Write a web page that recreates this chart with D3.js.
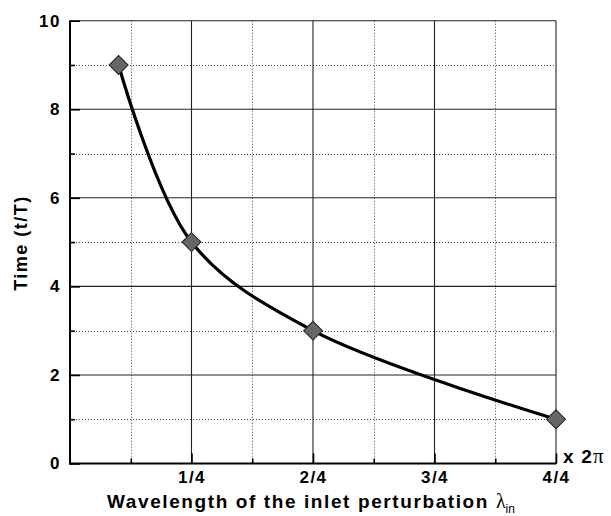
<!DOCTYPE html>
<html>
<head>
<meta charset="utf-8">
<title>Time vs wavelength</title>
<style>
  body { margin: 0; background: #fff; }
  text { font-family: "Liberation Sans", Arial, Helvetica, sans-serif; font-weight: bold; fill: #000; }
</style>
</head>
<body>
<script src="https://cdn.jsdelivr.net/npm/d3@7"></script>
<script>
// data
var wavelength = [0.1, 0.25, 0.5, 1.0];   // x 2pi
var timeT = [9, 5, 3, 1];                  // t/T
var xMajor = [0.25, 0.5, 0.75, 1.0];
var xMajorLabels = ["1/4", "2/4", "3/4", "4/4"];
var xMinor = [0.125, 0.375, 0.625, 0.875];
var yMajor = [0, 2, 4, 6, 8, 10];
var yMinor = [1, 3, 5, 7, 9];

var W = 611, H = 516;
var mL = 70, mR = 556, mT = 20.7, mB = 463.5;

var svg = d3.select("body").append("svg").attr("width", W).attr("height", H);

var x = d3.scaleLinear().domain([0, 1]).range([mL, mR]);
var y = d3.scaleLinear().domain([0, 10]).range([mB, mT]);

// dotted minor grid
var g = svg.append("g");
g.selectAll(".vminor").data(xMinor).enter().append("line")
  .attr("x1", function(d){ return Math.round(x(d)) + 0.5; })
  .attr("x2", function(d){ return Math.round(x(d)) + 0.5; })
  .attr("y1", mT).attr("y2", mB)
  .attr("stroke", "#444").attr("stroke-width", 1).attr("stroke-dasharray", "1,2");
g.selectAll(".hminor").data(yMinor).enter().append("line")
  .attr("y1", function(d){ return Math.round(y(d)) + 0.5; })
  .attr("y2", function(d){ return Math.round(y(d)) + 0.5; })
  .attr("x1", mL).attr("x2", mR)
  .attr("stroke", "#444").attr("stroke-width", 1).attr("stroke-dasharray", "1,2");

// solid major grid (incl. top and right border)
g.selectAll(".vmajor").data(xMajor).enter().append("line")
  .attr("x1", function(d){ return x(d); }).attr("x2", function(d){ return x(d); })
  .attr("y1", mT).attr("y2", mB)
  .attr("stroke", "#222").attr("stroke-width", 1.1);
g.selectAll(".hmajor").data(yMajor.slice(1)).enter().append("line")
  .attr("y1", function(d){ return y(d); }).attr("y2", function(d){ return y(d); })
  .attr("x1", mL).attr("x2", mR)
  .attr("stroke", "#222").attr("stroke-width", 1.1);

// axes with inward ticks
var yAxis = svg.append("g").attr("transform", "translate(" + mL + ",0)")
  .call(d3.axisLeft(y).tickValues(yMajor).tickSize(-10).tickPadding(9).tickFormat(d3.format("d")));
var yAxisMinor = svg.append("g").attr("transform", "translate(" + mL + ",0)")
  .call(d3.axisLeft(y).tickValues(yMinor).tickSize(-5).tickFormat(""));
var xAxis = svg.append("g").attr("transform", "translate(0," + mB + ")")
  .call(d3.axisBottom(x).tickValues(xMajor).tickSize(-10).tickPadding(7)
    .tickFormat(function(d, i){ return xMajorLabels[i]; }));
var xAxisMinor = svg.append("g").attr("transform", "translate(0," + mB + ")")
  .call(d3.axisBottom(x).tickValues(xMinor).tickSize(-5).tickFormat(""));

[yAxis, yAxisMinor, xAxis, xAxisMinor].forEach(function(a){
  a.select(".domain").remove();
  a.selectAll(".tick line").attr("stroke", "#000").attr("stroke-width", 1.6);
  a.selectAll("text").attr("font-size", 17).attr("letter-spacing", 1.5)
    .attr("font-family", "Liberation Sans, Arial, sans-serif").attr("font-weight", "bold").attr("fill", "#000");
});

// thick left and bottom axis lines
svg.append("line").attr("x1", mL).attr("x2", mL).attr("y1", mT - 0.5).attr("y2", mB + 1)
  .attr("stroke", "#000").attr("stroke-width", 2);
svg.append("line").attr("x1", mL - 1).attr("x2", mR + 0.5).attr("y1", mB).attr("y2", mB)
  .attr("stroke", "#000").attr("stroke-width", 2);

// smooth curve through the points
var pts = wavelength.map(function(d, i){ return [d, timeT[i]]; });
var line = d3.line()
  .x(function(d){ return x(d[0]); })
  .y(function(d){ return y(d[1]); })
  .curve(d3.curveCatmullRom.alpha(0.5));
svg.append("path").datum(pts).attr("d", line)
  .attr("fill", "none").attr("stroke", "#000").attr("stroke-width", 3.2);

// diamonds
svg.selectAll(".pt").data(pts).enter().append("path")
  .attr("d", d3.symbol().type(d3.symbolSquare).size(180))
  .attr("transform", function(d){ return "translate(" + x(d[0]) + "," + y(d[1]) + ") rotate(45)"; })
  .attr("fill", "#666").attr("stroke", "#222").attr("stroke-width", 1);

// axis titles
svg.append("text").attr("transform", "translate(27," + 243 + ") rotate(-90)")
  .attr("text-anchor", "middle").attr("font-size", 18).attr("letter-spacing", 1.5)
  .text("Time (t/T)");

var xt = svg.append("text").attr("x", 107).attr("y", 508).attr("font-size", 19).attr("letter-spacing", 1.6);
xt.append("tspan").text("Wavelength of the inlet perturbation ");
xt.append("tspan").attr("font-family", "Liberation Serif, serif").attr("font-weight", "normal")
  .attr("font-size", 20).attr("letter-spacing", 0).text("λ");
xt.append("tspan").attr("font-family", "Liberation Sans, Arial, sans-serif").attr("font-weight", "normal")
  .attr("font-size", 12).attr("dy", 5).attr("letter-spacing", 0).text("in");

var x2 = svg.append("text").attr("x", 563).attr("y", 463).attr("font-size", 19).attr("letter-spacing", 1.2);
x2.append("tspan").text("x 2");
x2.append("tspan").attr("font-family", "Liberation Serif, serif").attr("font-weight", "normal")
  .attr("font-size", 21).text("π");
</script>
</body>
</html>
